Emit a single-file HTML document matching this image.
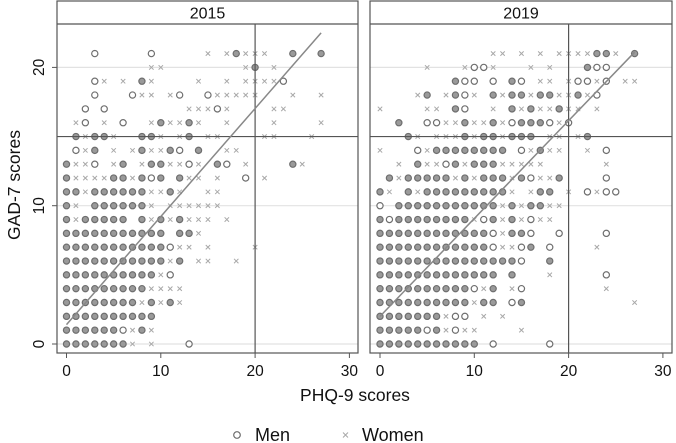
<!DOCTYPE html>
<html><head><meta charset="utf-8"><style>
html,body{margin:0;padding:0;background:#fff;overflow:hidden}
svg{display:block;font-family:"Liberation Sans",sans-serif}
</style></head><body>
<svg id="c" width="676" height="443" viewBox="0 0 676 443"></svg>
<script>
const years = ["2015","2019"];
const yTicks = [0,10,20];
const xTicks = [0,10,20,30];
const fit2015 = [1.4, 22.5];
const fit2019 = [2.0, 21.1];
const rows2015 = [
"@0-6 x7 x9 o13","@0-5 o6 x7 @8 x9","@0-9","@0-7 x8 @9 x10 @11 x12","@0-8 x9 x10 x11 x12","@0-9 x10 o11",
"@0-10 x11 @12 x14 x15 x18","@0-10 o11 x12 x13 x15 x20","@0-10 @12 @13 x14",
"@0 x1 @2-6 @8 x9 @10 x11 @12 x13 x14 x15 x17","@0 x1 @3-8 x9 x11 x12 x13 x14 x15 x16",
"@0 @1 x2 @3-8 x9 x10 @11 x12 x15 x16","@0 x1 x2 x3 x4 @5 @6 x7 @8 o9 @10 @12 x13 x14 x16 o19 x21",
"@0 x1 x2 o3 x5 @6 x8 @9 @10 x11 x12 o13 x14 @16 o17 x19 @24 x25",
"o1 x2 @3 x5 x7 @8 x9 x10 @11 o12 @14 x17 x18",
"@1 x2 @3 @4 x5 @8 @9 x10 x12 @13 x15 x16 x21 x22 x26",
"x1 o2 x4 o6 x9 @10 x11 x12 @13 x14 x17 x22 x27",
"o2 o4 x13 x14 x15 o16 x17 x22 x23",
"o3 o7 x8 x9 x11 o12 o15 x16 x17 x18 x19 x20 x24 x27",
"o3 x4 x6 @8 x9 x14 x17 x19 x20 x21 x22 o23",
"x9 x10 x19 @20 x22",
"o3 o9 x15 x17 @18 x19 x20 x21 @24 @27"];
const rows2019 = [
"@0-10 o12 o18","@0-4 o5 @6 x7 o8 x9 x10 x15","@0-6 x7 o8 o9 x11 x13",
"@0-9 x10 @11 @12 o14 @15 x27","@0-9 o10 x11 @12 x14 o15 x24","@0-12 @14 x18 o24",
"@0-14 o15 @18","@0-11 o12 x13 x14 o15 @16 o18 x23","@0-11 o12 x13 @14 @15 o16 o19 o24",
"@0 o1 @2-9 x10 o11 @12 x13 @14 x15 o16 x17 x18","o0 @2-12 x13 @14 x15 @16 @17 x18 x19",
"@0 x1 @3 x4 @5-13 x14 x16 @17 @18 x20 o22 x23 o24 o25",
"@1 x2 @3-7 x8 @9 x10 @11 @12 @13 x14 @15 o16 x17 x18 @19 o24",
"x2 @4 x5 x6 o7 @8 x9 @10 @11 @12 x13 x14 x15 x16 x17 x24",
"x0 o4 x5 @6-13 o15 x16 @17 x18 x19 x22 o24",
"@3 x4 x6 x7 x8 @9 x10 @11 @12 x13 @14 @15 @16 x18 x19 x21 @22",
"@2 o5 o6 x7 x8 @9 x10 x11 @12 x13 o14 @15 @16 @17 o18 x19 o20",
"x0 x5 x6 @8 o9 x12 @14 x15 @16 x17 x18 @19 x20 x21 x23",
"x4 @5 x7 @8 o9 x10 @12 x13 @14 @15 x16 @17 @18 x19 x20 @21 x22 o23",
"@8 o9 o10 o12 @14 o15 x17 x18 x20 o21 o22 x23 o24 x26 x27",
"x5 x9 o10 o11 x12 x16 x18 @22 o23 o24",
"x12 x13 x15 x17 x19 x20 x21 x22 @23 @24 x25 @27"];
const rowsAll=[rows2015,rows2019], fits=[fit2015,fit2019];
const NS="http://www.w3.org/2000/svg", svg=document.getElementById('c');
function mk(t,a,p){const e=document.createElementNS(NS,t);for(const k in a)e.setAttribute(k,a[k]);(p||svg).appendChild(e);return e;}
const panels=[{l:57,r:358,x0:66.5},{l:370,r:672,x0:380}];
const kx=9.43, y0=344, ky=13.83, topY=1, hdr=24, bot=353;
const ys=v=>y0-v*ky;
panels.forEach((P,i)=>{
  const xs=v=>P.x0+v*kx;
  const g=mk('g',{});
  
  
  yTicks.forEach(t=>mk('line',{x1:P.l,x2:P.r,y1:ys(t),y2:ys(t),stroke:'#e2e2e2','stroke-width':1.2},g));
  const pts=mk('g',{},g);
  
  
  rowsAll[i].forEach((row,y)=>{
    row.split(' ').forEach(tok=>{
      const t=tok[0], r=tok.slice(1).split('-').map(Number);
      const a=r[0], b=r.length>1?r[1]:r[0];
      for(let x=a;x<=b;x++){
        const cx=xs(x), cy=ys(y);
        if(t==='x'){
          const d=2.2;
          mk('path',{d:`M${cx-d},${cy-d}L${cx+d},${cy+d}M${cx-d},${cy+d}L${cx+d},${cy-d}`,stroke:'#a8a8a8','stroke-width':1},pts);
        } else {
          mk('circle',{cx:cx,cy:cy,r:3.1,fill:t==='@'?'#9a9a9a':'#fff',stroke:'#6e6e6e','stroke-width':1.2},pts);
        }
      }
    });
  });
  mk('line',{x1:P.l,x2:P.r,y1:ys(15),y2:ys(15),stroke:'#555','stroke-width':1.2},g);
  mk('line',{x1:xs(20),x2:xs(20),y1:hdr,y2:bot,stroke:'#555','stroke-width':1.2},g);
  const fl=mk('line',{x1:xs(0),y1:ys(fits[i][0]),x2:xs(27),y2:ys(fits[i][1]),stroke:'#888','stroke-width':1.5},g);
  
  
  mk('rect',{x:P.l,y:topY,width:P.r-P.l,height:bot-topY,fill:'none',stroke:'#555','stroke-width':1.2},g);
  mk('line',{x1:P.l,x2:P.r,y1:hdr,y2:hdr,stroke:'#555','stroke-width':1.2},g);
  const ht=mk('text',{x:(P.l+P.r)/2,y:18.5,'text-anchor':'middle','font-size':16,fill:'#111'},g);
  ht.textContent=years[i];
  
  
  xTicks.forEach(t=>{
    mk('line',{x1:xs(t),x2:xs(t),y1:bot,y2:bot+5,stroke:'#555'},g);
    const tx=mk('text',{x:xs(t),y:376,'text-anchor':'middle','font-size':15.5,fill:'#111'},g);
    tx.textContent=t;
    
    
  });
  if(i===0){
    yTicks.forEach(t=>{
      mk('line',{x1:P.l-5,x2:P.l,y1:ys(t),y2:ys(t),stroke:'#555'},g);
      const ty=mk('text',{x:0,y:0,'text-anchor':'middle','font-size':15.5,fill:'#111',transform:`translate(44,${ys(t)}) rotate(-90)`},g);
      ty.textContent=t;
      
      
    });
  }
});
</script>
<script>
(function(){
const sv=document.getElementById('c');
const NS2="http://www.w3.org/2000/svg";
function add(t,a,txt,name){const e=document.createElementNS(NS2,t);for(const k in a)e.setAttribute(k,a[k]);if(txt)e.textContent=txt;


sv.appendChild(e);return e;}
add('text',{x:0,y:0,transform:'translate(20,185) rotate(-90)','text-anchor':'middle','font-size':17.5,fill:'#111'},'GAD-7 scores','y-axis-title');
add('text',{x:355,y:401,'text-anchor':'middle','font-size':17.5,fill:'#111'},'PHQ-9 scores','x-axis-title');
add('circle',{cx:237,cy:435,r:3.3,fill:'#fff',stroke:'#6e6e6e','stroke-width':1.2},'','legend-men-marker');
add('text',{x:255,y:441,'font-size':18,fill:'#111'},'Men','legend-men-label');
add('path',{d:'M343,432.5L348,437.5M343,437.5L348,432.5',stroke:'#a8a8a8','stroke-width':1},'','legend-women-marker');
add('text',{x:362,y:441,'font-size':18,fill:'#111'},'Women','legend-women-label');
})();
</script>
</body></html>
